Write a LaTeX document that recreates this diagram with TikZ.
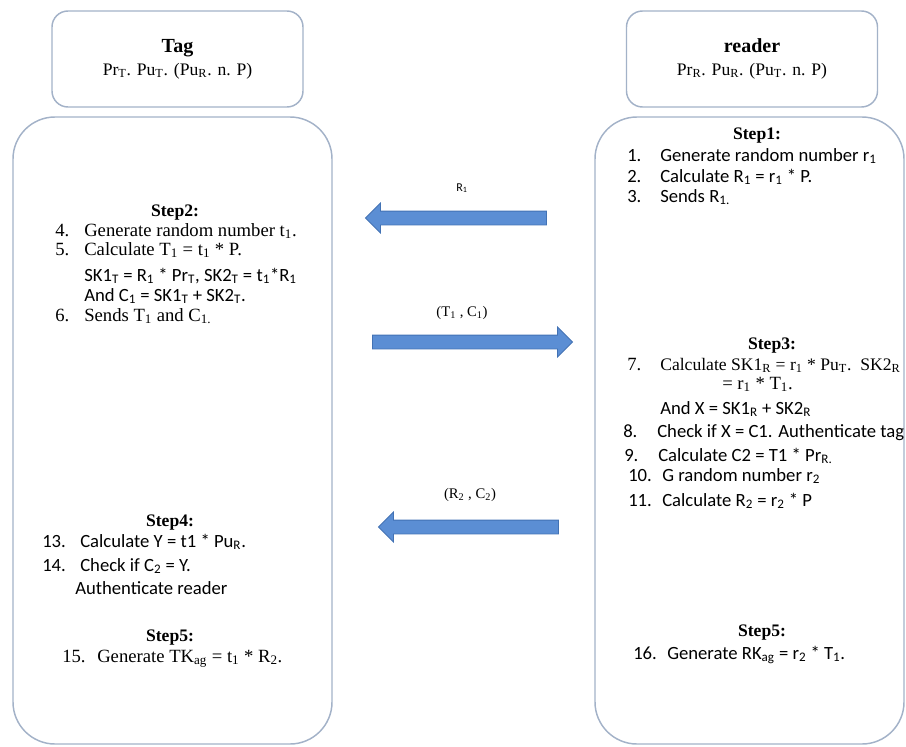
\documentclass[tikz,border=0pt]{standalone}
\usepackage{fontspec}
\setmainfont{Liberation Serif}
\newfontfamily\calibri{Carlito}
\usetikzlibrary{shapes.arrows}
\definecolor{boxline}{RGB}{163,178,200}
\definecolor{msgfill}{RGB}{91,142,212}
\definecolor{msgline}{RGB}{66,114,180}
\tikzset{
  headbox/.style={draw=boxline, line width=1.1pt, rounded corners=12pt,
                  minimum width=188.25pt, minimum height=72pt, align=center,
                  font=\fontsize{13.2}{17}\selectfont},
  partybox/.style={draw=boxline, line width=1.1pt, rounded corners=31.5pt,
                   minimum height=470.25pt},
  msg/.style={single arrow, draw=msgline, fill=msgfill, line width=0.6pt,
              inner xsep=0pt, inner ysep=4.875pt, single arrow head extend=6pt,
              single arrow tip angle=90},
  msglab/.style={inner sep=1pt, font=\fontsize{11}{13}\selectfont},
  steplab/.style={anchor=base, inner sep=0pt,
                  font=\bfseries\fontsize{13.2}{16}\selectfont},
  tline/.style={anchor=base west, inner sep=0pt,
                font=\fontsize{14}{16}\selectfont},
  cline/.style={anchor=base west, inner sep=0pt,
                font=\calibri\fontsize{14}{16}\selectfont},
}

\begin{document}
\begin{tikzpicture}[x=0.75pt, y=-0.75pt]
\useasboundingbox (0,0) rectangle (906,746);

% the two parties
\node[headbox] (tagHead) at (177.5,59)
  {{\bfseries\fontsize{15}{17}\selectfont Tag}\\
   Pr\textsubscript{T}. Pu\textsubscript{T}. (Pu\textsubscript{R}. n. P)};
\node[headbox] (readerHead) at (752,59)
  {{\bfseries\fontsize{15}{17}\selectfont reader}\\
   Pr\textsubscript{R}. Pu\textsubscript{R}. (Pu\textsubscript{T}. n. P)};
\node[partybox, minimum width=239.25pt] (tagBox) at (172.5,430.5) {};
\node[partybox, minimum width=231.75pt] (readerBox) at (749.5,430.5) {};

% messages
\node[msg, minimum height=135.75pt, shape border rotate=180] (msgR1)
  at (459.5,218) {};
\node[msglab, font=\calibri\fontsize{9}{11}\selectfont] (labR1)
  at (462,188) {R\textsubscript{1}};
\node[msg, minimum height=150pt] (msgT1) at (469,342) {};
\node[msglab] (labT1) at (462,313) {(T\textsubscript{1} , C\textsubscript{1})};
\node[msg, minimum height=135pt, shape border rotate=180] (msgR2)
  at (472,527) {};
\node[msglab] (labR2) at (470,495) {(R\textsubscript{2} , C\textsubscript{2})};

% step 1 (reader)
\node[steplab] (stepA) at (757,139) {Step1:};
\foreach \y/\n/\t [count=\k] in {
    161/1./{Generate random number r\textsubscript{1}},
    182/2./{Calculate R\textsubscript{1} = r\textsubscript{1} * P.},
    202/3./{Sends R\textsubscript{1.}}} {
  \node[cline] (a\k n) at (627,\y) {\n};
  \node[cline] (a\k t) at (660,\y) {\t};
}

% step 2 (tag)
\node[steplab] (stepB) at (175,216) {Step2:};
\node[tline] (b1n) at (55,236) {4.};
\node[tline] (b1t) at (84,236) {Generate random number t\textsubscript{1}.};
\node[tline] (b2n) at (55,255) {5.};
\node[tline] (b2t) at (84,255)
  {Calculate T\textsubscript{1} = t\textsubscript{1} * P.};
\node[cline] (b3t) at (84,281) {SK1\textsubscript{T} = R\textsubscript{1} *
  Pr\textsubscript{T}, SK2\textsubscript{T} = t\textsubscript{1}*R\textsubscript{1}};
\node[cline] (b4t) at (84,301) {And C\textsubscript{1} = SK1\textsubscript{T} +
  SK2\textsubscript{T}.};
\node[tline] (b5n) at (55,321) {6.};
\node[tline] (b5t) at (84,321) {Sends T\textsubscript{1} and C\textsubscript{1.}};

% step 3 (reader)
\node[steplab] (stepC) at (772,349) {Step3:};
\node[tline] (c1n) at (627,370) {7.};
\node[tline, font=\fontsize{13.2}{15}\selectfont] (c1t) at (660,370)
  {Calculate SK1\textsubscript{R} = r\textsubscript{1} * Pu\textsubscript{T}.\ \
   SK2\textsubscript{R}};
\node[tline] (c2t) at (722,389) {= r\textsubscript{1} * T\textsubscript{1}.};
\node[cline] (c3t) at (660,414) {And X = SK1\textsubscript{R} + SK2\textsubscript{R}};
\foreach \y/\x/\n/\t [count=\k] in {
    437/623/8./{Check if X = C1. Authenticate tag},
    461/624/9./{Calculate C2 = T1 * Pr\textsubscript{R.}},
    481/628/10./{G random number r\textsubscript{2}},
    506/628/11./{Calculate R\textsubscript{2} = r\textsubscript{2} * P}} {
  \node[cline] (c\k n) at (\x,\y) {\n};
  \node[cline] (c\k t) at (\x+34,\y) {\t};
}

% step 4 (tag)
\node[steplab] (stepD) at (170,526) {Step4:};
\node[cline] (d1n) at (42,547) {13.};
\node[cline] (d1t) at (80,547) {Calculate Y = t1 * Pu\textsubscript{R}.};
\node[cline] (d2n) at (42,571) {14.};
\node[cline] (d2t) at (80,571) {Check if C\textsubscript{2} = Y.};
\node[cline] (d3t) at (75,594) {Authenticate reader};

% step 5 (both)
\node[steplab] (stepE) at (170,641) {Step5:};
\node[tline] (e1n) at (62,662) {15.};
\node[tline] (e1t) at (97,662) {Generate TK\textsubscript{ag} = t\textsubscript{1} *
  R\textsubscript{2}.};
\node[steplab] (stepF) at (762,636) {Step5:};
\node[cline] (f1n) at (633,659) {16.};
\node[cline] (f1t) at (667,659) {Generate RK\textsubscript{ag} = r\textsubscript{2} *
  T\textsubscript{1}.};

\end{tikzpicture}
\end{document}
